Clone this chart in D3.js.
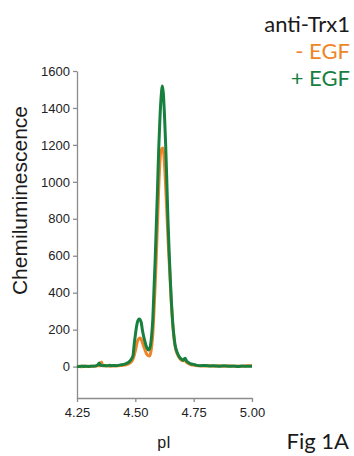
<!DOCTYPE html>
<html>
<head>
<meta charset="utf-8">
<script src="https://cdn.jsdelivr.net/npm/d3@7"></script>
<style>
  body { margin: 0; background: #fff; }
  .axis text { font-family: "Liberation Sans", Arial, sans-serif; font-size: 13px; fill: #222; }
  .axis path, .axis line { stroke: #8c8c8c; stroke-width: 1.3; }
</style>
</head>
<body>
<svg id="chart"></svg>
<script>
// pI positions and chemiluminescence readings
const pIGreen = [4.25, 4.26, 4.27, 4.28, 4.29, 4.30, 4.31, 4.32, 4.33, 4.34, 4.345, 4.35, 4.36, 4.37, 4.38, 4.39, 4.40,
  4.41, 4.42, 4.43, 4.44, 4.45, 4.46, 4.47, 4.48, 4.49, 4.495, 4.50, 4.505, 4.51, 4.517, 4.525, 4.53, 4.54, 4.55, 4.556,
  4.562, 4.57, 4.575, 4.58, 4.585, 4.59, 4.595, 4.60, 4.605, 4.61, 4.616, 4.62, 4.625, 4.63, 4.635, 4.64, 4.645, 4.65,
  4.655, 4.66, 4.665, 4.67, 4.68, 4.69, 4.70, 4.705, 4.713, 4.72, 4.73, 4.74, 4.75, 4.76, 4.78, 4.80, 4.82, 4.84, 4.86,
  4.88, 4.90, 4.92, 4.94, 4.96, 4.98, 5.00];
const plusEGF = [2, 0, 3, 1, 2, 0, 3, 2, 4, 10, 20, 8, 5, 6, 4, 7, 5,
  6, 5, 8, 10, 12, 16, 22, 35, 60, 120, 170, 215, 245, 258, 240, 200, 140, 100, 90,
  100, 170, 260, 420, 580, 770, 960, 1170, 1330, 1450, 1519, 1480, 1360, 1200, 1000, 790, 620, 470,
  340, 240, 170, 120, 75, 50, 38, 35, 45, 30, 20, 14, 12, 8, 5, 6, 3, 5, 2,
  4, 2, 3, 1, 3, 2, 2];

const pIOrange = [4.25, 4.26, 4.27, 4.28, 4.29, 4.30, 4.31, 4.32, 4.33, 4.34, 4.35, 4.355, 4.36, 4.37, 4.38, 4.39, 4.40,
  4.41, 4.42, 4.43, 4.44, 4.45, 4.46, 4.47, 4.48, 4.49, 4.50, 4.505, 4.51, 4.52, 4.525, 4.53, 4.54, 4.55, 4.56, 4.565,
  4.57, 4.575, 4.58, 4.585, 4.59, 4.595, 4.60, 4.605, 4.61, 4.618, 4.622, 4.627, 4.632, 4.637, 4.642, 4.648, 4.653,
  4.658, 4.663, 4.668, 4.675, 4.685, 4.695, 4.705, 4.713, 4.72, 4.73, 4.74, 4.75, 4.76, 4.78, 4.80, 4.82, 4.84, 4.86,
  4.88, 4.90, 4.92, 4.94, 4.96, 4.98, 5.00];
const minusEGF = [0, 2, -1, 3, 1, 2, 0, 3, 2, 5, 4, 25, 6, 3, 5, 2, 4,
  3, 4, 5, 6, 8, 10, 14, 22, 40, 85, 115, 140, 155, 148, 130, 95, 65, 57, 70,
  110, 180, 300, 440, 600, 780, 960, 1100, 1170, 1183, 1150, 1050, 920, 780, 640, 500, 370,
  270, 190, 130, 85, 55, 38, 32, 33, 22, 14, 10, 8, 6, 4, 3, 5, 2, 4,
  2, 4, 2, 3, 2, 4, 5];

const xTicks = [4.25, 4.50, 4.75, 5.00];
const yTicks = [0, 200, 400, 600, 800, 1000, 1200, 1400, 1600];
const legendLines = [
  { label: 'anti-Trx1', color: '#1a1a1a' },
  { label: '- EGF', color: '#ef8427' },
  { label: '+ EGF', color: '#17803f' }
];

const width = 354, height = 456;
const margin = { top: 71, right: 102, bottom: 58, left: 77 };

const svg = d3.select('#chart')
  .attr('width', width)
  .attr('height', height);

const x = d3.scaleLinear()
  .domain([4.25, 5.00])
  .range([margin.left, width - margin.right]);

const y = d3.scaleLinear()
  .domain([-170, 1600])
  .range([height - margin.bottom, margin.top]);

// axes
svg.append('g')
  .attr('class', 'axis')
  .attr('transform', `translate(0,${height - margin.bottom})`)
  .call(d3.axisBottom(x).tickValues(xTicks).tickFormat(d3.format('.2f')).tickSize(4).tickSizeOuter(0).tickPadding(6));

svg.append('g')
  .attr('class', 'axis')
  .attr('transform', `translate(${margin.left},0)`)
  .call(d3.axisLeft(y).tickValues(yTicks).tickFormat(d3.format('d')).tickSize(4).tickSizeOuter(0).tickPadding(3));

// series
const line = d3.line()
  .x(d => x(d[0]))
  .y(d => y(d[1]))
  .curve(d3.curveMonotoneX);

svg.append('path')
  .datum(d3.zip(pIOrange, minusEGF))
  .attr('fill', 'none')
  .attr('stroke', legendLines[1].color)
  .attr('stroke-width', 3)
  .attr('stroke-linejoin', 'round')
  .attr('d', line);

svg.append('path')
  .datum(d3.zip(pIGreen, plusEGF))
  .attr('fill', 'none')
  .attr('stroke', legendLines[2].color)
  .attr('stroke-width', 3)
  .attr('stroke-linejoin', 'round')
  .attr('d', line);

// axis titles
svg.append('text')
  .attr('transform', `translate(27,${(103 + 298) / 2}) rotate(-90)`)
  .attr('text-anchor', 'middle')
  .style('font-family', '"Liberation Sans", Arial, sans-serif')
  .style('font-size', '21px')
  .style('fill', '#1a1a1a')
  .text('Chemiluminescence');

svg.append('text')
  .attr('x', 164)
  .attr('y', 448)
  .attr('text-anchor', 'middle')
  .style('font-family', '"Liberation Sans", Arial, sans-serif')
  .style('font-size', '16px')
  .style('fill', '#1a1a1a')
  .text('pI');

// legend, top right
svg.append('g')
  .selectAll('text')
  .data(legendLines)
  .join('text')
  .attr('x', 350)
  .attr('y', (d, i) => 32 + i * 27)
  .attr('text-anchor', 'end')
  .style('font-family', 'Lato, "Open Sans", sans-serif')
  .style('font-size', '22px')
  .style('fill', d => d.color)
  .text(d => d.label);

svg.append('text')
  .attr('x', 349)
  .attr('y', 449)
  .attr('text-anchor', 'end')
  .style('font-family', 'Lato, "Open Sans", sans-serif')
  .style('font-size', '22px')
  .style('fill', '#1a1a1a')
  .text('Fig 1A');
</script>
</body>
</html>
